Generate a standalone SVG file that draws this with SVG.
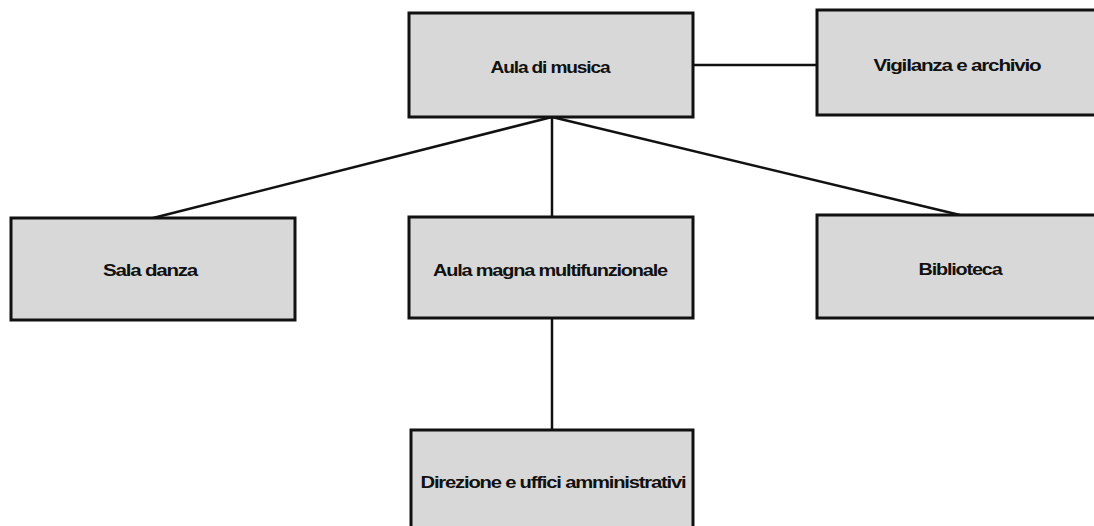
<svg xmlns="http://www.w3.org/2000/svg" width="1094" height="526" viewBox="0 0 1094 526">
<style>
.box{fill:#d8d8d8;stroke:#111;stroke-width:3}
.lbl{font-family:"Liberation Sans",Arial,sans-serif;font-weight:bold;font-size:17px;fill:#111;text-anchor:middle;letter-spacing:-1px}
.con{stroke:#111;stroke-width:2.5;fill:none}
</style>
<rect width="1094" height="526" fill="#fff"/>
<g id="connectors">
<line class="con" x1="693" y1="65" x2="817" y2="65"/>
<line class="con" x1="552" y1="117" x2="153" y2="218"/>
<line class="con" x1="552" y1="117" x2="960" y2="215"/>
<line class="con" x1="552" y1="117" x2="552" y2="217"/>
<line class="con" x1="552" y1="318" x2="552" y2="430"/>
</g>
<g id="aula-musica">
<rect class="box" x="409" y="13" width="284" height="104"/>
<text class="lbl" x="550" y="73" textLength="119" lengthAdjust="spacingAndGlyphs">Aula di musica</text>
</g>
<g id="vigilanza">
<rect class="box" x="817" y="10" width="290" height="105"/>
<text class="lbl" x="957" y="71" textLength="167" lengthAdjust="spacingAndGlyphs">Vigilanza e archivio</text>
</g>
<g id="sala-danza">
<rect class="box" x="11" y="218" width="284" height="102"/>
<text class="lbl" x="150" y="276" textLength="94" lengthAdjust="spacingAndGlyphs">Sala danza</text>
</g>
<g id="aula-magna">
<rect class="box" x="409" y="217" width="284" height="101"/>
<text class="lbl" x="550" y="276" textLength="234" lengthAdjust="spacingAndGlyphs">Aula magna multifunzionale</text>
</g>
<g id="biblioteca">
<rect class="box" x="817" y="215" width="290" height="103"/>
<text class="lbl" x="960" y="275" textLength="83" lengthAdjust="spacingAndGlyphs">Biblioteca</text>
</g>
<g id="direzione">
<rect class="box" x="411" y="430" width="282" height="110"/>
<text class="lbl" x="553" y="488" textLength="265" lengthAdjust="spacingAndGlyphs">Direzione e uffici amministrativi</text>
</g>
</svg>
